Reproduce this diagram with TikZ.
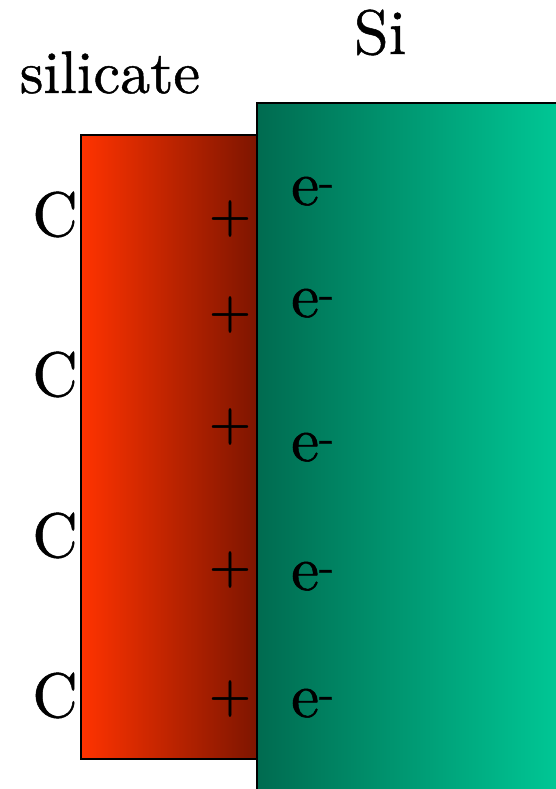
\documentclass[tikz,border=0pt]{standalone}
\usepackage{fontspec}
\newfontfamily\lmh{lmroman10-regular}[Extension=.otf, FakeBold=0.8]
\definecolor{redL}{HTML}{FF3300}
\definecolor{redR}{HTML}{7D1500}
\definecolor{grnL}{HTML}{006B50}
\definecolor{grnR}{HTML}{00CC99}
\tikzset{
  lbl/.style={inner sep=0pt, font=\lmh\fontsize{63}{63}\selectfont},
  plus/.style={inner sep=0pt, font=\lmh\fontsize{54}{54}\selectfont},
  slab/.style={draw=black, line width=2pt}
}
\begin{document}
\begin{tikzpicture}[x=1pt,y=-1pt]
\useasboundingbox (0,0) rectangle (555,789);
\draw[slab, left color=redL, right color=redR] (81,135) rectangle (258,759);
\draw[slab, left color=grnL, right color=grnR] (257,103) rectangle (575,810);
\node[lbl, anchor=base, font=\lmh\fontsize{60}{60}\selectfont] (silicate) at (110,93) {silicate};
\node[lbl, anchor=base] (si) at (380,54) {Si};
\foreach \y/\n in {236/1,396/2,557/3,717/4}
  \node[lbl, anchor=base east] (c\n) at (78,\y) {C};
\foreach \y/\n in {232/1,328/2,440/3,583/4,712/5}
  \node[plus, anchor=base] (p\n) at (230,\y) {+};
\foreach \y/\n in {205/1,317/2,461/3,590/4,717/5}
  \node[lbl, anchor=base west] (e\n) at (291,\y) {e\textsuperscript{-}};
\end{tikzpicture}
\end{document}
